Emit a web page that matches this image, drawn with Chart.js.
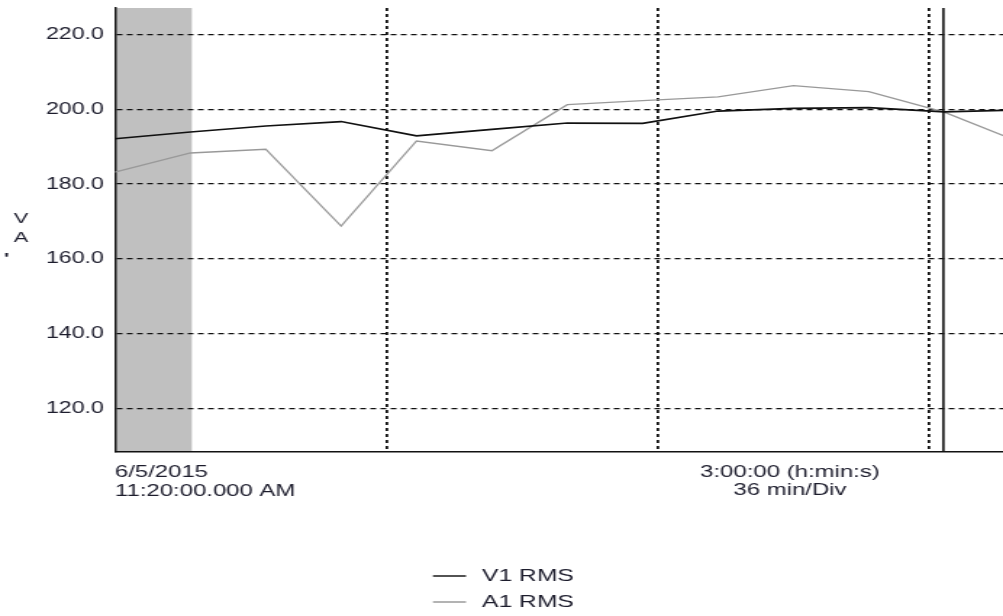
<!DOCTYPE html>
<html>
<head>
<meta charset="utf-8">
<script src="https://cdn.jsdelivr.net/npm/chart.js@4"></script>
<style>
  html, body { margin: 0; padding: 0; background: #fff; overflow: hidden; }
  /* the original picture is stretched sideways, so the chart is drawn narrow and widened */
  #wrap { width: 692px; height: 616px; transform: scaleX(1.4494); transform-origin: 0 0; }
</style>
</head>
<body>
<div id="wrap"><canvas id="chart" width="692" height="616"></canvas></div>
<script>
// minutes after 11:20:00 AM, one sample every 10 min
const minutes = [0, 10, 20, 30, 40, 50, 60, 70, 80, 90, 100, 110, 120];
const v1Rms = [192.1, 193.9, 195.5, 196.7, 192.9, 194.6, 196.3, 196.2, 199.5, 200.2, 200.4, 199.3, 199.8];
const a1Rms = [183.2, 188.3, 189.3, 168.8, 191.5, 188.9, 201.2, 202.3, 203.3, 206.3, 204.7, 199.2, 191.2];
const yTicks = [120, 140, 160, 180, 200, 220];
const divTicks = [36, 72, 108];
const shadeEnd = 10.2;
const cursorAt = 109.9;

const textColor = '#1c1c2c';
Chart.defaults.font.family = "'Liberation Sans', Arial, sans-serif";

const toPoints = vals => vals.map((v, i) => ({ x: minutes[i], y: v }));

const decor = {
  id: 'decor',
  beforeDraw(chart) {
    const { ctx, chartArea: a, scales: { x } } = chart;
    ctx.save();
    ctx.fillStyle = '#c0c0c0';
    const x1 = x.getPixelForValue(shadeEnd);
    ctx.fillRect(a.left, a.top, x1 - a.left, a.bottom - a.top);
    ctx.restore();
  },
  afterDatasetsDraw(chart) {
    const { ctx, chartArea: a, scales: { x } } = chart;
    const cx = x.getPixelForValue(cursorAt);
    ctx.save();
    ctx.strokeStyle = '#111';
    ctx.lineWidth = 1.6;
    ctx.beginPath();
    ctx.moveTo(cx, a.top);
    ctx.lineTo(cx, a.bottom);
    ctx.stroke();
    ctx.restore();
  },
  afterDraw(chart) {
    const { ctx, chartArea: a } = chart;
    ctx.save();
    ctx.fillStyle = textColor;
    ctx.textBaseline = 'middle';

    // axis title
    ctx.font = "15px 'Liberation Sans', Arial";
    ctx.textAlign = 'center';
    ctx.fillText('V', 14.5, 219);
    ctx.fillText('A', 14.5, 238);
    ctx.font = "bold 15px 'Liberation Sans', Arial";
    ctx.fillText("'", 4.6, 259);

    // start time
    ctx.font = "16.5px 'Liberation Sans', Arial";
    ctx.textAlign = 'left';
    ctx.fillText('6/5/2015', a.left, 472);
    ctx.fillText('11:20:00.000 AM', a.left, 491);

    // span
    ctx.textAlign = 'center';
    ctx.fillText('3:00:00 (h:min:s)', 545, 472);
    ctx.fillText('36 min/Div', 545, 490);

    // legend
    const items = [['V1 RMS', '#1a1a1a', 576], ['A1 RMS', '#9a9a9a', 602]];
    ctx.font = "17px 'Liberation Sans', Arial";
    ctx.textAlign = 'left';
    items.forEach(([label, color, y]) => {
      ctx.strokeStyle = color;
      ctx.lineWidth = 1.5;
      ctx.beginPath();
      ctx.moveTo(298.7, y);
      ctx.lineTo(321.5, y);
      ctx.stroke();
      ctx.fillStyle = textColor;
      ctx.fillText(label, 332.6, y);
    });
    ctx.restore();
  }
};

new Chart(document.getElementById('chart'), {
  type: 'line',
  data: {
    datasets: [
      { label: 'V1 RMS', data: toPoints(v1Rms), borderColor: '#111', borderWidth: 1.7, pointRadius: 0, tension: 0 },
      { label: 'A1 RMS', data: toPoints(a1Rms), borderColor: '#999', borderWidth: 1.3, pointRadius: 0, tension: 0 }
    ]
  },
  options: {
    responsive: false,
    animation: false,
    layout: { padding: { top: 8, left: 0, right: 0, bottom: 0 } },
    plugins: { legend: { display: false }, tooltip: { enabled: false } },
    scales: {
      x: {
        type: 'linear',
        min: 0,
        max: 117.8,
        afterBuildTicks: s => { s.ticks = divTicks.map(v => ({ value: v })); },
        afterFit: s => { s.height = 164; s.paddingLeft = 0; s.paddingRight = 0; },
        ticks: { display: false },
        grid: { color: '#111', lineWidth: 1.8, drawTicks: false },
        border: { display: true, color: '#111', width: 1.6, dash: [3, 3] }
      },
      y: {
        min: 108.5,
        max: 227,
        afterBuildTicks: s => { s.ticks = yTicks.map(v => ({ value: v })); },
        afterFit: s => { s.width = 79.3; s.paddingTop = 0; s.paddingBottom = 0; },
        ticks: {
          padding: 7.6,
          color: textColor,
          font: { size: 16 },
          callback: v => v.toFixed(1)
        },
        grid: { color: '#111', lineWidth: 1.3, drawTicks: false },
        border: { display: true, color: '#111', width: 1.5, dash: [4, 3] }
      }
    }
  },
  plugins: [decor]
});
</script>
</body>
</html>
